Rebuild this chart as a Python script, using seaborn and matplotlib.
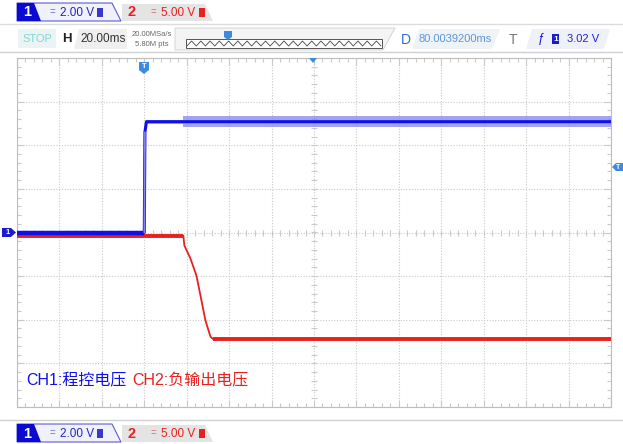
import numpy as np
import pandas as pd
import matplotlib
matplotlib.use('Agg')
import matplotlib.pyplot as plt
import seaborn as sns
from matplotlib.patches import Polygon, Rectangle

# scope settings
time_per_div = 20.0      # ms
ch1_scale = 2.0          # V/div
ch2_scale = 5.0          # V/div
ch2_offset = -0.07       # div
trig_level = 3.02        # V

# CH1: programmed control voltage (V) vs time (ms, trigger at 0)
ch1_t = [-60.0, 0.0, 0.3, 1.0, 220.0]
ch1_v = [0.0, 0.0, 4.6, 5.08, 5.08]
ch1_noise_start = 18.4   # ms, where the wide noise band starts
ch1_noise = 0.24         # V half width

# CH2: negative output voltage (V)
ch2_t = [-60.0, 18.4, 18.9, 21.7, 24.6, 26.5, 28.8, 31.2, 32.6, 220.0]
ch2_v = [0.0, 0.0, -1.15, -2.6, -4.6, -6.9, -9.7, -11.6, -11.9, -11.9]

sns.set_style('white')
plt.rcParams['font.family'] = ['Liberation Sans', 'Noto Sans CJK SC', 'DejaVu Sans']

BLUE = '#1010e6'
LBLUE = '#8484f2'
RED = '#e8211f'
GRID = '#c9c9c9'

fig = plt.figure(figsize=(6.23, 4.44), dpi=100)
ax = fig.add_axes([17 / 623, 37 / 444, 594 / 623, 349 / 444])

df1 = pd.DataFrame({'t': ch1_t, 'div': np.array(ch1_v) / ch1_scale})
df2 = pd.DataFrame({'t': ch2_t, 'div': np.array(ch2_v) / ch2_scale + ch2_offset})

# grid
for x in np.arange(-60, 221, 20):
    ax.axvline(x, color=GRID, lw=0.8, ls=(0, (1, 1.5)), zorder=0)
for y in range(-4, 5):
    ax.axhline(y, color=GRID, lw=0.8, ls=(0, (1, 1.5)), zorder=0)
# small ticks on the center cross
mx = np.arange(-60, 221, 4)
my = np.arange(-4, 4.01, 0.2)
ax.plot(mx, np.zeros_like(mx), ls='none', marker='|', ms=4, color=GRID, mew=0.8, zorder=0)
ax.plot(np.full_like(my, 80), my, ls='none', marker='_', ms=4, color=GRID, mew=0.8, zorder=0)

# noise band on ch1
hi = ch1_v[-1] / ch1_scale
ax.fill_between([ch1_noise_start, 220], hi - ch1_noise / ch1_scale, hi + ch1_noise / ch1_scale,
                color=LBLUE, alpha=0.75, lw=0, zorder=2)
ax.fill_between([1.0, ch1_noise_start], hi - 0.05, hi + 0.05, color=LBLUE, alpha=0.6, lw=0, zorder=2)

# red: thin on the falling edge, thick where flat
sns.lineplot(data=df2, x='t', y='div', ax=ax, color=RED, lw=1.3, sort=False, zorder=3)
ax.plot(df2['t'][:2], df2['div'][:2], color=RED, lw=2.8, solid_capstyle='butt', zorder=3)
ax.plot(df2['t'][-2:], df2['div'][-2:], color=RED, lw=2.8, solid_capstyle='butt', zorder=3)

sns.lineplot(data=df1, x='t', y='div', ax=ax, color=BLUE, lw=2.2, sort=False, zorder=4)
ax.plot(df1['t'][:2], df1['div'][:2], color=BLUE, lw=3.2, solid_capstyle='butt', zorder=4)
# thin rising edge of ch1
ax.plot(ch1_t[1:3], np.array(ch1_v[1:3]) / ch1_scale, color=LBLUE, lw=1.2, zorder=5)

ax.set_xlim(-60, 220)
ax.set_ylim(-4, 4)
ax.set_xticks(np.arange(-60, 221, 20))
ax.set_yticks(range(-4, 5))
ax.set_xticks(np.arange(-60, 221, 4), minor=True)
ax.set_yticks(np.arange(-4, 4.01, 0.2), minor=True)
ax.tick_params(which='both', direction='in', top=True, right=True, bottom=True, left=True,
               labelbottom=False, labelleft=False, color=GRID, width=0.8)
ax.tick_params(which='major', length=5)
ax.tick_params(which='minor', length=3)
ax.set_xlabel('')
ax.set_ylabel('')
for s in ax.spines.values():
    s.set_color('#bdbdbd')
    s.set_linewidth(0.8)

ax.text(-55.5, -3.4, 'CH1:程控电压', color=BLUE, fontsize=11.5, va='center')
ax.text(-55.5 + 50, -3.4, 'CH2:负输出电压', color=RED, fontsize=11.5, va='center')

# screen chrome drawn in pixel coordinates
ov = fig.add_axes([0, 0, 1, 1], zorder=10)
ov.set_xlim(0, 623)
ov.set_ylim(444, 0)
ov.axis('off')
ov.patch.set_alpha(0)


def channel_tabs(y0):
    ov.add_patch(Polygon([(17, y0), (112, y0), (121, y0 + 18), (17, y0 + 18)], closed=True,
                         fc='#f1f1fb', ec='#5a5ad8', lw=0.8))
    ov.add_patch(Polygon([(17, y0), (34, y0), (41, y0 + 18), (17, y0 + 18)], closed=True,
                         fc='#0a0ad0', ec='none'))
    ov.text(27, y0 + 9.5, '1', color='white', fontsize=10.5, fontweight='bold', ha='center', va='center')
    ov.text(52, y0 + 9.5, '=', color='#6b6bd8', fontsize=7, ha='center', va='center')
    ov.text(60, y0 + 9.5, '2.00 V', color='#2323c8', fontsize=8.5, ha='left', va='center')
    ov.add_patch(Rectangle((97, y0 + 5), 6, 9, fc='#3a3ac8', ec='none'))
    ov.add_patch(Polygon([(122, y0 + 1), (205, y0 + 1), (213, y0 + 18), (122, y0 + 18)], closed=True,
                         fc='#e4e4e4', ec='none'))
    ov.text(132, y0 + 9.5, '2', color=RED, fontsize=10.5, fontweight='bold', ha='center', va='center')
    ov.text(153, y0 + 9.5, '=', color='#d86b6b', fontsize=7, ha='center', va='center')
    ov.text(161, y0 + 9.5, '5.00 V', color=RED, fontsize=8.5, ha='left', va='center')
    ov.add_patch(Rectangle((199, y0 + 5), 6, 9, fc=RED, ec='none'))


channel_tabs(3)
channel_tabs(424)

ov.plot([0, 623], [24, 24], color='#dcdcdc', lw=1)
ov.plot([0, 623], [52, 52], color='#d0d0d0', lw=1)
ov.plot([0, 623], [420, 420], color='#d0d0d0', lw=1)

# second row: status bar
ov.add_patch(Rectangle((18, 29), 38, 19, fc='#eaf4f4', ec='none'))
ov.text(37, 39, 'STOP', color='#7fd6d6', fontsize=8, ha='center', va='center')
ov.text(67, 39, 'H', color='#222222', fontsize=9.5, fontweight='bold', ha='center', va='center')
ov.add_patch(Polygon([(79, 29), (127, 29), (127, 49), (74, 49)], closed=True, fc='#efefef', ec='none'))
ov.text(103, 39, '20.00ms', color='#333333', fontsize=8.5, ha='center', va='center')
ov.text(152, 34, '20.00MSa/s', color='#666666', fontsize=5.5, ha='center', va='center')
ov.text(152, 44, '5.80M pts', color='#666666', fontsize=5.5, ha='center', va='center')
ov.add_patch(Polygon([(175, 28), (395, 28), (383, 50), (175, 50)], closed=True,
                     fc='#f4f4f4', ec='#cfcfcf', lw=0.6))
ov.add_patch(Rectangle((186, 39), 196, 9, fc='white', ec='#555555', lw=0.7))
zx = np.linspace(187, 381, 43)
zy = np.where(np.arange(43) % 2 == 0, 46, 41)
ov.plot(zx, zy, color='#444444', lw=0.6)
ov.add_patch(Polygon([(224, 31), (232, 31), (232, 37), (228, 40), (224, 37)], closed=True,
                     fc='#3d8be0', ec='none'))
ov.text(406, 40, 'D', color='#2a6fd6', fontsize=10, ha='center', va='center')
ov.add_patch(Polygon([(419, 29), (500, 29), (492, 49), (412, 49)], closed=True, fc='#eef3f8', ec='none'))
ov.text(455, 39, '80.0039200ms', color='#5a98d8', fontsize=8, ha='center', va='center')
ov.text(513, 40, 'T', color='#777777', fontsize=10, ha='center', va='center')
ov.add_patch(Polygon([(532, 29), (610, 29), (604, 49), (526, 49)], closed=True, fc='#eef1f8', ec='none'))
ov.text(541, 39, 'ƒ', color='#1a1ad0', fontsize=9, ha='center', va='center')
ov.add_patch(Rectangle((552, 34), 7, 10, fc='#1a1ad0', ec='none'))
ov.text(555.5, 39.5, '1', color='white', fontsize=6, fontweight='bold', ha='center', va='center')
ov.text(567, 39, f'{trig_level:.2f} V', color='#2323c8', fontsize=8, ha='left', va='center')

# markers on the screen edges
ov.add_patch(Polygon([(139, 62), (149, 62), (149, 70), (144, 74), (139, 70)], closed=True,
                     fc='#3d8be0', ec='none'))
ov.text(144, 67, 'T', color='white', fontsize=5.5, fontweight='bold', ha='center', va='center')
ov.add_patch(Polygon([(309, 58), (317, 58), (313, 63)], closed=True, fc='#3d8be0', ec='none'))
ov.add_patch(Polygon([(2, 228), (11, 228), (16, 232.5), (11, 237), (2, 237)], closed=True,
                     fc='#1a1ad0', ec='none'))
ov.text(7.5, 232.5, '1', color='white', fontsize=5.5, fontweight='bold', ha='center', va='center')
ov.add_patch(Polygon([(612, 167), (616, 163), (623, 163), (623, 171), (616, 171)], closed=True,
                     fc='#3d8be0', ec='none'))
ov.text(618.5, 167, 'T', color='white', fontsize=5, fontweight='bold', ha='center', va='center')

fig.savefig('out.png', dpi=100)
